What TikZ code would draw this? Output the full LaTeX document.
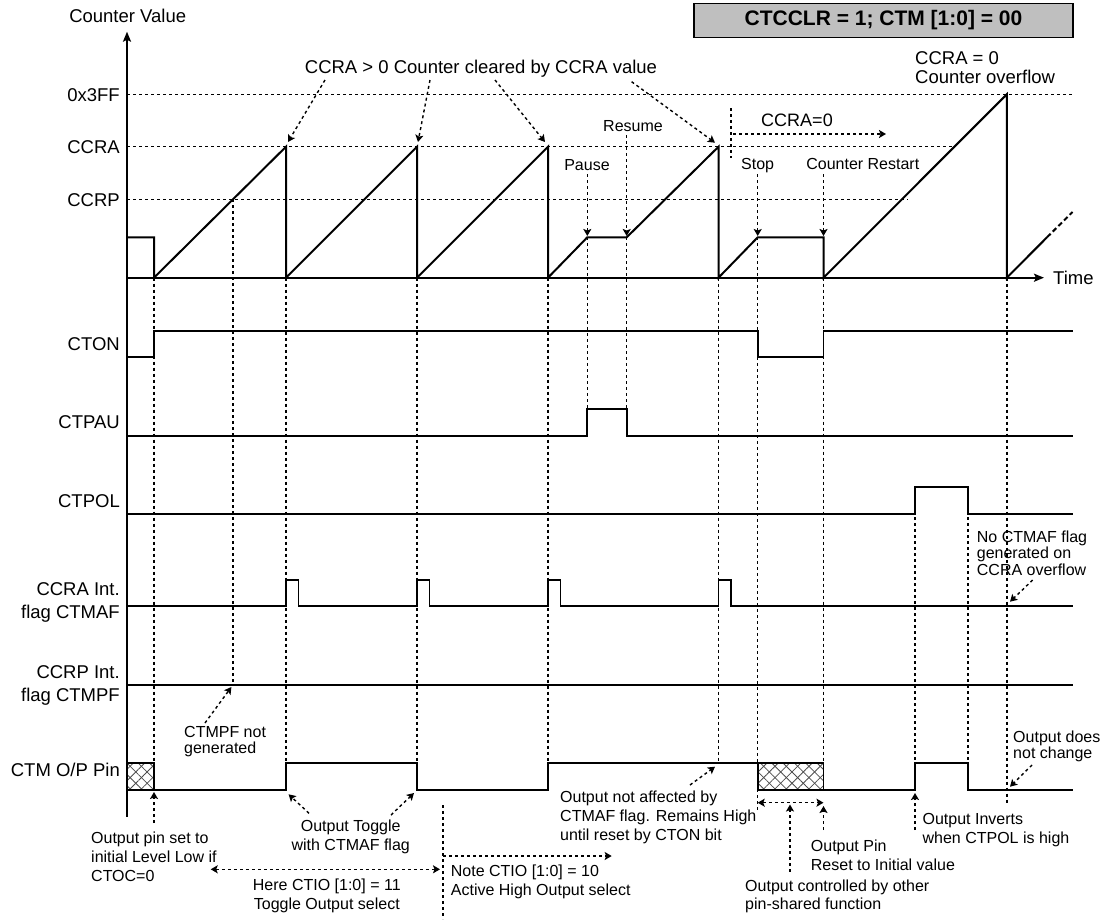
\documentclass[tikz,border=0pt]{standalone}
\usepackage{fontspec}
\setmainfont{Liberation Sans}
\usetikzlibrary{arrows.meta,patterns.meta}
\begin{document}
\begin{tikzpicture}[x=1pt,y=-1pt,
  sig/.style={line width=1.7pt,line join=miter},
  saw/.style={line width=2pt,line join=miter},
  dl/.style={line width=1.4pt,dash pattern=on 3pt off 3pt},
  darr/.style={dl,-{Stealth[length=7pt,width=8pt,inset=1.5pt]}},
  dbiarr/.style={dl,{Stealth[length=7pt,width=8pt,inset=1.5pt]}-{Stealth[length=7pt,width=8pt,inset=1.5pt]}},
  axarr/.style={saw,-{Stealth[length=10pt,width=8pt,inset=2pt]}},
  lab/.style={inner sep=0pt,font=\fontsize{18.5}{23}\selectfont},
  ann/.style={inner sep=0pt,font=\fontsize{16}{19}\selectfont,align=left},
  hatchA/.style={pattern={Lines[angle=45,distance=8pt,line width=0.8pt]},pattern color=black!70},
  hatchB/.style={pattern={Lines[angle=-45,distance=8pt,line width=0.8pt]},pattern color=black!70},
]
\useasboundingbox (0,0) rectangle (1103,919);

% ---------- labels ----------
\node[lab,anchor=base] (cv) at (127.7,22.4) {Counter Value};
\node[lab,anchor=base east] (l3ff) at (120,101) {0x3FF};
\node[lab,anchor=base east] (lccra) at (120,153.4) {CCRA};
\node[lab,anchor=base east] (lccrp) at (120,206) {CCRP};
\node[lab,anchor=base east] (lcton) at (120,350) {CTON};
\node[lab,anchor=base east] (lpau) at (120,428.4) {CTPAU};
\node[lab,anchor=base east] (lpol) at (120,507.4) {CTPOL};
\node[lab,anchor=north east,align=right] (lmaf) at (120,582.2) {CCRA Int.\\flag CTMAF};
\node[lab,anchor=north east,align=right] (lmpf) at (120,665.4) {CCRP Int.\\flag CTMPF};
\node[lab,anchor=base east] (lop) at (120,776.7) {CTM O/P Pin};

% ---------- title ----------
\node[draw,line width=1.4pt,fill=black!25,minimum width=379pt,minimum height=34.4pt,inner sep=0pt,
      font=\bfseries\fontsize{21}{25}\selectfont] (title) at (883.5,20.5) {CTCCLR = 1; CTM [1:0] = 00};

% ---------- top texts ----------
\node[lab,anchor=base] (clr) at (481,73.4) {CCRA > 0 Counter cleared by CCRA value};
\node[lab,anchor=north west,align=left,font=\fontsize{18.5}{18.4}\selectfont] (ovf) at (915,51.5) {CCRA = 0\\Counter overflow};
\node[inner sep=0pt,anchor=base,font=\fontsize{18}{20}\selectfont] (c0) at (797,126.7) {CCRA=0};
\node[lab,anchor=base west] (time) at (1053,284.4) {Time};
\node[ann,anchor=base] (pause) at (587,170.1) {Pause};
\node[ann,anchor=base] (resume) at (633,131.5) {Resume};
\node[ann,anchor=base] (stop) at (757.6,169.8) {Stop};
\node[ann,anchor=base] (restart) at (862.8,169.8) {Counter Restart};

% ---------- bottom annotations ----------
\node[ann,anchor=north west] (pinset) at (91,831.7) {Output pin set to\\initial Level Low if\\CTOC=0};
\node[ann,anchor=north,align=center] (toggle) at (350.7,820) {Output Toggle\\with CTMAF flag};
\node[ann,anchor=north,align=center] (here) at (326.8,878.3) {Here CTIO [1:0] = 11\\Toggle Output select};
\node[ann,anchor=north west] (note) at (450.7,864.7) {Note CTIO [1:0] = 10\\Active High Output select};
\node[ann,anchor=north west] (notaff) at (560,790.7) {Output not affected by\\CTMAF flag. Remains High\\until reset by CTON bit};
\node[ann,anchor=north west] (outpin) at (810.7,840) {Output Pin\\Reset to Initial value};
\node[ann,anchor=north west,font=\fontsize{16}{18}\selectfont] (outctl) at (745,880) {Output controlled by other\\pin-shared function};
\node[ann,anchor=north west] (inverts) at (922.4,813.3) {Output Inverts\\when CTPOL is high};
\node[ann,anchor=north west,font=\fontsize{16}{16}\selectfont] (does) at (1013,730.7) {Output does\\not change};
\node[ann,anchor=north west,font=\fontsize{16}{16.3}\selectfont] (noflag) at (976.7,530.7) {No CTMAF flag\\generated on\\CCRA overflow};
\node[ann,anchor=north west,font=\fontsize{16}{16}\selectfont] (ctmpf) at (184,725.7) {CTMPF not\\generated};

% ---------- level guide lines ----------
\draw[dl] (127,94.3) -- (1073,94.3);
\draw[dl] (127,146.7) -- (953,146.7);
\draw[dl] (127,199.3) -- (908,199.3);

% ---------- vertical guides ----------
\draw[dl] (154,277.7) -- (154,763);
\draw[dl] (233,199.3) -- (233,685);
\draw[dl] (286,277.7) -- (286,763);
\draw[dl] (417,277.7) -- (417,763);
\draw[dl] (548,277.7) -- (548,763);
\draw[dl] (587.3,237.3) -- (587.3,408.7);
\draw[dl] (626.7,237.3) -- (626.7,408.7);
\draw[dl] (718.5,277.7) -- (718.5,763);
\draw[dl] (757.7,237.3) -- (757.7,810);
\draw[dl] (823.5,277.7) -- (823.5,790);
\draw[dl] (915,487.3) -- (915,763);
\draw[dl] (968,487.3) -- (968,763);
\draw[dl] (1006.8,277.7) -- (1006.8,803);
\draw[dl] (443,805) -- (443,919);
\draw[dl] (731,108) -- (731,158);

% ---------- hatched boxes ----------
\path[hatchA] (127,763) rectangle (154,790);
\path[hatchB] (127,763) rectangle (154,790);
\path[hatchA] (757.7,763) rectangle (823.5,790);
\path[hatchB] (757.7,763) rectangle (823.5,790);

% ---------- axes ----------
\draw[axarr] (127,816.7) -- (127,31.7);
\draw[axarr] (127,277.7) -- (1044,277.7);

% ---------- counter ----------
\draw[saw] (127,237.3) -- (154,237.3) -- (154,277.7) -- (286,146.7) -- (286,277.7)
  -- (417,146.7) -- (417,277.7) -- (548,146.7) -- (548,277.7) -- (587.3,237.3)
  -- (626.7,237.3) -- (718.5,146.7) -- (718.5,277.7) -- (757.7,237.3) -- (823.5,237.3)
  -- (823.5,277.7) -- (1006.8,94.3) -- (1006.8,277.7) -- (1047,237.3);
\draw[saw,dash pattern=on 5pt off 3pt] (1047,237.3) -- (1072.5,212);

% ---------- signals ----------
\draw[sig] (127,357) -- (154,357) -- (154,330.7) -- (757.7,330.7) -- (757.7,357) -- (823.5,357) -- (823.5,330.7) -- (1073,330.7);
\draw[sig] (127,435.7) -- (587.3,435.7) -- (587.3,408.7) -- (626.7,408.7) -- (626.7,435.7) -- (1073,435.7);
\draw[sig] (127,514) -- (915,514) -- (915,487.3) -- (968,487.3) -- (968,514) -- (1073,514);
\draw[sig] (127,606) -- (286,606) -- (286,580) -- (298.6,580) -- (298.6,606)
  -- (417,606) -- (417,580) -- (429.6,580) -- (429.6,606)
  -- (548,606) -- (548,580) -- (560.6,580) -- (560.6,606)
  -- (718.5,606) -- (718.5,580) -- (731.1,580) -- (731.1,606) -- (1073,606);
\draw[sig] (127,685) -- (1073,685);
\draw[sig] (127,763) -- (154,763) -- (154,790) -- (286,790) -- (286,763) -- (417,763) -- (417,790)
  -- (548,790) -- (548,763) -- (757.7,763) -- (823.5,763) -- (823.5,790) -- (915,790) -- (915,763)
  -- (968,763) -- (968,790) -- (1073,790);
\draw[sig] (127,790) -- (154,790);
\draw[sig] (757.7,763) -- (757.7,790) -- (823.5,790);

% ---------- annotation arrows ----------
\coordinate (a1s) at (325,80);   \coordinate (a1e) at (288,142);
\coordinate (a2s) at (430,80);   \coordinate (a2e) at (418,142);
\coordinate (a3s) at (495,80);   \coordinate (a3e) at (545,142);
\coordinate (a4s) at (631.6,81.7); \coordinate (a4e) at (715,142.7);
\draw[darr] (a1s) -- (a1e);
\draw[darr] (a2s) -- (a2e);
\draw[darr] (a3s) -- (a3e);
\draw[darr] (a4s) -- (a4e);

\coordinate (pz1) at (587.3,174); \coordinate (pz2) at (587.3,236);
\coordinate (rs1) at (626.7,135); \coordinate (rs2) at (626.7,236);
\coordinate (st1) at (757.7,174); \coordinate (st2) at (757.7,236);
\coordinate (cr1) at (823.5,174); \coordinate (cr2) at (823.5,236);
\draw[darr] (pz1) -- (pz2);
\draw[darr] (rs1) -- (rs2);
\draw[darr] (st1) -- (st2);
\draw[darr] (cr1) -- (cr2);

\coordinate (c0s) at (733,134); \coordinate (c0e) at (886,134);
\draw[darr] (c0s) -- (c0e);

\coordinate (ps1) at (154,823); \coordinate (ps2) at (154,792);
\draw[darr] (ps1) -- (ps2);
\coordinate (mp1) at (205,723); \coordinate (mp2) at (231.4,687);
\draw[darr] (mp1) -- (mp2);
\coordinate (tg1) at (309,813.3); \coordinate (tg2) at (288.6,794.3);
\coordinate (tg3) at (391,815); \coordinate (tg4) at (414,793);
\draw[darr] (tg1) -- (tg2);
\draw[darr] (tg3) -- (tg4);
\coordinate (h1) at (210.7,869.3); \coordinate (h2) at (440,869.3);
\draw[dbiarr] (h1) -- (h2);
\coordinate (n1) at (443,856); \coordinate (n2) at (611.7,856);
\draw[darr] (n1) -- (n2);
\coordinate (na1) at (690,785); \coordinate (na2) at (715,766.7);
\draw[darr] (na1) -- (na2);
\coordinate (b1) at (757.7,802.7); \coordinate (b2) at (823.5,802.7);
\draw[dbiarr] (b1) -- (b2);
\coordinate (oc1) at (790,871.7); \coordinate (oc2) at (790,804.5);
\draw[darr] (oc1) -- (oc2);
\coordinate (rp1) at (823.5,830); \coordinate (rp2) at (823.5,806);
\draw[darr] (rp1) -- (rp2);
\coordinate (iv1) at (915,830); \coordinate (iv2) at (915,793);
\draw[darr] (iv1) -- (iv2);
\coordinate (nf1) at (1032.7,580); \coordinate (nf2) at (1010,601.7);
\draw[darr] (nf1) -- (nf2);
\coordinate (od1) at (1032,765); \coordinate (od2) at (1010,786.7);
\draw[darr] (od1) -- (od2);
\end{tikzpicture}
\end{document}
